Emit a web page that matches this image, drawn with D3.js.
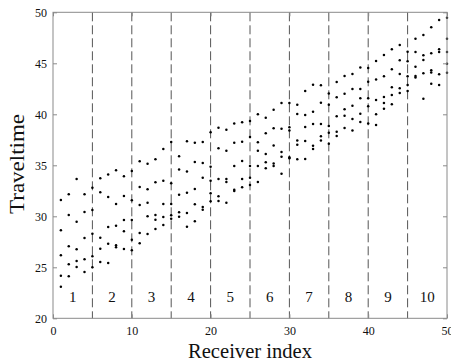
<!DOCTYPE html>
<html>
<head>
<meta charset="utf-8">
<script src="https://cdn.jsdelivr.net/npm/d3@7"></script>
<style>
  html, body { margin: 0; padding: 0; background: #fff; }
  svg { display: block; }
  text { font-family: "Liberation Serif", "DejaVu Serif", serif; fill: #111; }
</style>
</head>
<body>
<svg id="chart" width="451" height="363"></svg>
<script>
// Travel times per receiver, five sources, listed from the slowest to the fastest arrival
const receivers = d3.range(1, 51);
const source1 = [31.6, 32.16, 33.66, 32.16, 32.8, 33.73, 34.11, 34.51, 33.92, 34.44,
  35.39, 35.16, 35.59, 36.6, 37.28, 35.88, 37.35, 37.22, 37.28, 38.23,
  38.69, 38.49, 39.11, 39.21, 39.34, 40.0, 39.67, 40.45, 41.11, 41.11,
  40.94, 42.28, 42.9, 42.84, 42.04, 43.17, 43.75, 43.95, 44.6, 44.54,
  45.23, 45.81, 46.37, 46.79, 46.14, 47.41, 47.77, 48.53, 49.25, 49.47];
const source2 = [28.63, 30.13, 29.47, 30.42, 30.62, 32.35, 31.89, 31.21, 31.99, 31.57,
  32.87, 32.64, 33.33, 33.49, 33.23, 34.6, 34.38, 35.32, 35.23, 34.87,
  36.66, 36.43, 37.22, 37.32, 37.77, 37.25, 38.13, 38.64, 38.59, 38.72,
  40.03, 39.93, 40.26, 41.14, 40.94, 41.66, 42.02, 42.48, 42.48, 43.2,
  43.4, 43.74, 44.41, 45.29, 45.19, 46.11, 45.78, 45.98, 46.37, 47.41];
const source3 = [26.18, 27.06, 26.76, 27.87, 28.29, 27.9, 28.95, 29.08, 29.64, 29.64,
  31.11, 31.34, 30.13, 31.21, 31.21, 32.12, 32.32, 32.68, 33.79, 33.49,
  33.66, 33.66, 34.93, 35.42, 34.93, 36.43, 36.11, 36.94, 36.3, 38.4,
  37.42, 38.75, 39.05, 39.05, 38.85, 39.8, 40.49, 40.85, 41.57, 41.57,
  41.4, 41.7, 42.64, 43.95, 43.72, 44.67, 45.32, 44.31, 46.11, 46.11];
const source4 = [24.18, 25.29, 25.62, 25.78, 26.08, 26.82, 27.32, 27.15, 28.53, 27.71,
  28.36, 30.0, 29.67, 29.93, 30.1, 30.39, 30.32, 31.17, 30.91, 32.25,
  31.96, 33.36, 32.6, 33.66, 33.79, 34.93, 35.29, 35.18, 35.85, 35.8,
  37.02, 37.38, 36.92, 37.84, 38.2, 38.3, 39.87, 39.54, 40.06, 40.78,
  40.0, 41.1, 41.89, 42.55, 42.87, 43.75, 44.02, 44.1, 43.92, 44.96];
const source5 = [23.1, 24.12, 25.03, 24.54, 25.0, 25.52, 25.42, 26.96, 26.79, 26.66,
  27.35, 28.26, 28.75, 29.15, 29.77, 29.96, 28.98, 29.51, 30.65, 31.47,
  31.5, 31.34, 32.48, 32.84, 33.07, 33.36, 34.7, 34.92, 34.18, 35.68,
  35.59, 35.62, 36.6, 37.42, 37.12, 37.87, 38.66, 38.4, 39.24, 39.11,
  38.95, 40.54, 40.98, 42.09, 42.28, 43.62, 41.53, 43.0, 42.87, 44.08];
const sources = [source1, source2, source3, source4, source5];

// Receiver groups (five receivers each) separated by dashed lines
const groupLabels = ["1", "2", "3", "4", "5", "6", "7", "8", "9", "10"];
const groupBounds = [5, 10, 15, 20, 25, 30, 35, 40, 45];
const xTicks = [0, 10, 20, 30, 40, 50];
const yTicks = [20, 25, 30, 35, 40, 45, 50];

const svg = d3.select("#chart");
const plotLeft = 53, plotRight = 447, plotTop = 12.3, plotBottom = 318.3;

const x = d3.scaleLinear().domain([0, 50]).range([plotLeft, plotRight]);
const y = d3.scaleLinear().domain([20, 50]).range([plotBottom, plotTop]);

const frameColor = "#8a8a8a";

// Group separators
svg.append("g").selectAll("line").data(groupBounds).join("line")
  .attr("x1", d => x(d)).attr("x2", d => x(d))
  .attr("y1", plotTop).attr("y2", plotBottom)
  .attr("stroke", "#555").attr("stroke-width", 1)
  .attr("stroke-dasharray", "9,4");

// Group numbers
svg.append("g").selectAll("text").data(groupLabels).join("text")
  .attr("x", (d, i) => x(2.5 + 5 * i))
  .attr("y", 302)
  .attr("text-anchor", "middle")
  .attr("font-size", 15)
  .text(d => d);

// Travel-time points
const points = [];
sources.forEach(s => s.forEach((v, i) => points.push([receivers[i], v])));
svg.append("g").selectAll("circle").data(points).join("circle")
  .attr("cx", d => x(d[0])).attr("cy", d => y(d[1]))
  .attr("r", 1.25).attr("fill", "#000");

// Axes with inward ticks on all four sides
const tickLen = 4;
const bottomAxis = d3.axisBottom(x).tickValues(xTicks).tickSize(-tickLen).tickPadding(8);
const leftAxis = d3.axisLeft(y).tickValues(yTicks).tickSize(-tickLen).tickPadding(6);
const topAxis = d3.axisTop(x).tickValues(xTicks).tickSize(-tickLen).tickFormat("");
const rightAxis = d3.axisRight(y).tickValues(yTicks).tickSize(-tickLen).tickFormat("");

function style(g) {
  g.select(".domain").remove();
  g.selectAll(".tick line").attr("stroke", frameColor);
  g.selectAll(".tick text").attr("font-family", "Liberation Serif").attr("font-size", 12).attr("fill", "#111");
}
svg.append("g").attr("transform", `translate(0,${plotBottom})`).call(bottomAxis).call(style);
svg.append("g").attr("transform", `translate(${plotLeft},0)`).call(leftAxis).call(style);
svg.append("g").attr("transform", `translate(0,${plotTop})`).call(topAxis).call(style);
svg.append("g").attr("transform", `translate(${plotRight},0)`).call(rightAxis).call(style);

// Box
svg.append("rect")
  .attr("x", plotLeft).attr("y", plotTop)
  .attr("width", plotRight - plotLeft).attr("height", plotBottom - plotTop)
  .attr("fill", "none").attr("stroke", frameColor).attr("stroke-width", 1);

// Axis titles
svg.append("text")
  .attr("x", 250).attr("y", 358)
  .attr("text-anchor", "middle").attr("font-size", 20)
  .attr("textLength", 124).attr("lengthAdjust", "spacingAndGlyphs")
  .text("Receiver index");
svg.append("text")
  .attr("transform", `translate(24,164) rotate(-90)`)
  .attr("text-anchor", "middle").attr("font-size", 20)
  .attr("textLength", 100).attr("lengthAdjust", "spacingAndGlyphs")
  .text("Traveltime");
</script>
</body>
</html>
